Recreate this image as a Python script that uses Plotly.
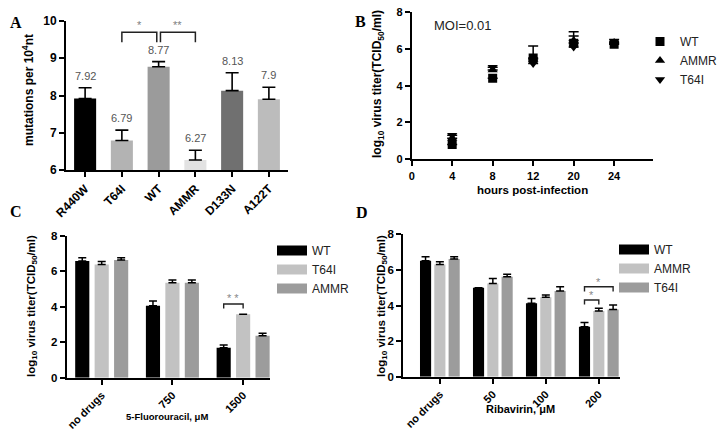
import plotly.graph_objects as go

W, H = 725, 429


def px(x):
    return x / W


def py(y):
    return 1 - y / H


FONT = "Liberation Sans"

# ---------------- Panel A data ----------------
a_cats = ["R440W", "T64I", "WT", "AMMR", "D133N", "A122T"]
a_vals = [7.92, 6.79, 8.77, 6.27, 8.13, 7.90]
a_errs = [0.29, 0.28, 0.14, 0.26, 0.48, 0.32]
a_labels = ["7.92", "6.79", "8.77", "6.27", "8.13", "7.9"]
a_colors = ["#000000", "#b3b3b3", "#9b9b9b", "#e2e2e2", "#707070", "#bcbcbc"]
a_sig = [("T64I", "WT", 9.70, 9.43, 9.90, "*"), ("WT", "AMMR", 9.70, 9.43, 9.90, "**")]

# ---------------- Panel B data ----------------
b_times = ["0", "4", "8", "12", "20", "24"]
b_x = ["4", "8", "12", "20", "24"]
b_wt = [0.80, 4.40, 5.50, 6.30, 6.25]
b_wt_err = [0, 0, 0, 0.40, 0.25]
b_ammr = [1.15, 4.85, 5.45, 6.45, 6.35]
b_ammr_err = [0, 0, 0.70, 0.48, 0]
b_t64i = [1.30, 5.00, 5.20, 6.10, 6.30]
b_t64i_err = [0, 0, 0, 0, 0]

# ---------------- Panel C data ----------------
c_groups = ["no drugs", "750", "1500"]
c_series = ["WT", "T64I", "AMMR"]
c_vals = {
    "WT": [6.57, 4.06, 1.69],
    "T64I": [6.38, 5.35, 3.57],
    "AMMR": [6.63, 5.35, 2.37],
}
c_errs = {
    "WT": [0.19, 0.26, 0.15],
    "T64I": [0.16, 0.15, 0.0],
    "AMMR": [0.13, 0.15, 0.13],
}
c_colors = {"WT": "#000000", "T64I": "#c2c2c2", "AMMR": "#9c9c9c"}
c_sig = [("1500", "WT", "T64I", 4.15, 3.90, 4.47, "* *")]

# ---------------- Panel D data ----------------
d_groups = ["no drugs", "50", "100", "200"]
d_series = ["WT", "AMMR", "T64I"]
d_vals = {
    "WT": [6.52, 5.00, 4.12, 2.81],
    "AMMR": [6.31, 5.24, 4.46, 3.69],
    "T64I": [6.61, 5.62, 4.81, 3.78],
}
d_errs = {
    "WT": [0.22, 0.0, 0.28, 0.24],
    "AMMR": [0.15, 0.28, 0.13, 0.15],
    "T64I": [0.13, 0.13, 0.25, 0.25],
}
d_colors = {"WT": "#000000", "AMMR": "#c2c2c2", "T64I": "#9c9c9c"}
d_sig = [("200", "WT", "AMMR", 4.31, 4.05, 4.58, "*"),
         ("200", "WT", "T64I", 5.05, 4.78, 5.30, "*")]

fig = go.Figure()
shapes = []
annotations = []

# ---------- Panel A ----------
fig.add_trace(go.Bar(
    x=a_cats, y=a_vals, width=0.6, marker=dict(color=a_colors, line=dict(width=0)),
    error_y=dict(type="data", array=a_errs, arrayminus=[0] * len(a_errs), symmetric=False,
                 color="black", thickness=1.6, width=6.5),
    xaxis="x", yaxis="y", showlegend=False,
))
for c, v, e, t in zip(a_cats, a_vals, a_errs, a_labels):
    annotations.append(dict(x=c, y=v + e, xref="x", yref="y", text=t, showarrow=False,
                            yanchor="bottom", yshift=4,
                            font=dict(family=FONT, size=11, color="#555555")))
for c1, c2, ytop, yleg, ystar, txt in a_sig:
    i1, i2 = a_cats.index(c1), a_cats.index(c2)
    mid = a_cats.index("WT")
    x0 = i1 + (0.05 if i1 == mid else 0)
    x1 = i2 - (0.05 if i2 == mid else 0)
    shapes.append(dict(type="path", xref="x", yref="y",
                       path=f"M {x0},{yleg} L {x0},{ytop} L {x1},{ytop} L {x1},{yleg}",
                       line=dict(color="#222222", width=1.5)))
    annotations.append(dict(x=(x0 + x1) / 2, y=ystar, xref="x", yref="y", text=txt,
                            showarrow=False, font=dict(family=FONT, size=11, color="#808080")))

# ---------- Panel B ----------
for name, vals, errs, sym in [("WT", b_wt, b_wt_err, "square"),
                              ("AMMR", b_ammr, b_ammr_err, "triangle-up"),
                              ("T64I", b_t64i, b_t64i_err, "triangle-down")]:
    fig.add_trace(go.Scatter(
        x=b_x, y=vals, mode="markers", name=name,
        marker=dict(symbol=sym, size=9, color="black"),
        error_y=dict(type="data", array=errs, arrayminus=[0] * len(errs), symmetric=False,
                     color="black", thickness=1.5, width=5),
        xaxis="x2", yaxis="y2", legend="legend",
    ))


def grouped(fig, groups, series, vals, errs, colors, width, step, xa, ya, leg):
    n = len(series)
    for k, s in enumerate(series):
        shift = (k - (n - 1) / 2) * step
        fig.add_trace(go.Bar(
            x=groups, y=vals[s], width=width, offset=shift - width / 2,
            marker=dict(color=colors[s], line=dict(width=0)),
            error_y=dict(type="data", array=errs[s], arrayminus=[0] * len(errs[s]),
                         symmetric=False, color="black", thickness=1.5, width=4),
            xaxis=xa, yaxis=ya, showlegend=False, legendgroup=leg + s, name=s,
        ))
        fig.add_trace(go.Scatter(
            x=[None], y=[None], mode="lines", name=s, legendgroup=leg + s,
            line=dict(color=colors[s], width=12), xaxis=xa, yaxis=ya, legend=leg,
        ))


def sig_shapes(sigs, groups, series, step, xref, yref):
    n = len(series)
    for g, s1, s2, ytop, yleg, ystar, txt in sigs:
        gi = groups.index(g)
        x0 = gi + (series.index(s1) - (n - 1) / 2) * step
        x1 = gi + (series.index(s2) - (n - 1) / 2) * step
        shapes.append(dict(type="path", xref=xref, yref=yref,
                           path=f"M {x0},{yleg} L {x0},{ytop} L {x1},{ytop} L {x1},{yleg}",
                           line=dict(color="#222222", width=1.4)))
        annotations.append(dict(x=(x0 + x1) / 2, y=ystar, xref=xref, yref=yref, text=txt,
                                showarrow=False, font=dict(family=FONT, size=11, color="#888888")))


# ---------- Panel C ----------
grouped(fig, c_groups, c_series, c_vals, c_errs, c_colors, 0.2, 0.275, "x3", "y3", "legend2")
sig_shapes(c_sig, c_groups, c_series, 0.275, "x3", "y3")

# ---------- Panel D ----------
grouped(fig, d_groups, d_series, d_vals, d_errs, d_colors, 0.21, 0.27, "x4", "y4", "legend3")
sig_shapes(d_sig, d_groups, d_series, 0.27, "x4", "y4")


def tf(size):
    return dict(family=FONT, size=size, color="black", weight="bold")


axis_common = dict(showline=True, linecolor="black", linewidth=2, ticks="outside",
                   tickcolor="black", tickwidth=1.6, ticklen=5, showgrid=False, zeroline=False,
                   automargin=False)

fig.update_layout(
    width=W, height=H, autosize=False,
    margin=dict(l=0, r=0, t=0, b=0, autoexpand=False),
    paper_bgcolor="white", plot_bgcolor="white",
    barmode="overlay",
    font=dict(family=FONT, color="black"),
    xaxis=dict(axis_common, domain=[px(66), px(288)], anchor="y", type="category",
               range=[-0.52, 5.52], tickangle=-45, tickfont=tf(12)),
    yaxis=dict(axis_common, domain=[py(170), py(21)], anchor="x", range=[6, 10], dtick=1,
               tickfont=tf(12)),
    xaxis2=dict(axis_common, domain=[px(411.7), px(653)], anchor="y2", type="category",
                categoryorder="array", categoryarray=b_times, range=[0, 5.96],
                tickvals=b_times, tickfont=tf(11)),
    yaxis2=dict(axis_common, domain=[py(159.3), py(12)], anchor="x2", range=[0, 8], dtick=2,
                tickfont=tf(11)),
    xaxis3=dict(axis_common, domain=[px(66.7), px(270)], anchor="y3", type="category",
                range=[-0.495, 2.38], tickangle=-45, tickfont=tf(11)),
    yaxis3=dict(axis_common, domain=[py(377.7), py(235.7)], anchor="x3", range=[0, 8], dtick=2,
                tickfont=tf(11.5)),
    xaxis4=dict(axis_common, domain=[px(403.3), px(620)], anchor="y4", type="category",
                range=[-0.69, 3.40], tickangle=-45, tickfont=tf(11)),
    yaxis4=dict(axis_common, domain=[py(376.7), py(234.3)], anchor="x4", range=[0, 8], dtick=2,
                tickfont=tf(11.5)),
    legend=dict(x=px(640), y=py(27), xanchor="left", yanchor="top", bgcolor="rgba(0,0,0,0)",
                font=dict(family=FONT, size=12, color="#222222"), tracegroupgap=0),
    legend2=dict(x=px(272), y=py(236), xanchor="left", yanchor="top", bgcolor="rgba(0,0,0,0)",
                 font=dict(family=FONT, size=12, color="#222222"), tracegroupgap=0),
    legend3=dict(x=px(614), y=py(235), xanchor="left", yanchor="top", bgcolor="rgba(0,0,0,0)",
                 font=dict(family=FONT, size=12, color="#222222"), tracegroupgap=0),
)

titles = [
    ("mutations per 10<sup>4</sup>nt", 28, 90, -90, 12),
    ("log<sub>10</sub> virus titer(TCID<sub>50</sub>/ml)", 378, 84, -90, 12),
    ("hours post-infection", 532, 190, 0, 11.5),
    ("log<sub>10</sub> virus titer(TCID<sub>50</sub>/ml)", 32, 306, -90, 11.5),
    ("5-Fluorouracil, μM", 167, 416, 0, 9.5),
    ("log<sub>10</sub> virus titer(TCID<sub>50</sub>/ml)", 382, 306, -90, 11.5),
    ("Ribavirin, μM", 520, 409, 0, 11),
]
for t, x, y, ang, size in titles:
    annotations.append(dict(x=px(x), y=py(y), xref="paper", yref="paper", text=t,
                            showarrow=False, textangle=ang,
                            font=dict(family=FONT, size=size, color="black", weight="bold"),
                            xanchor="center", yanchor="middle"))

annotations.append(dict(x=px(432), y=py(25), xref="paper", yref="paper", text="MOI=0.01",
                        showarrow=False, xanchor="left", yanchor="middle",
                        font=dict(family=FONT, size=13, color="#222222")))

for letter, x, y in [("A", 16, 22), ("B", 360, 21), ("C", 16, 212), ("D", 362, 213)]:
    annotations.append(dict(x=px(x), y=py(y), xref="paper", yref="paper", text=letter,
                            showarrow=False, xanchor="center", yanchor="middle",
                            font=dict(family="Liberation Serif", size=16, color="black",
                                      weight="bold")))

fig.update_layout(shapes=shapes, annotations=annotations)
fig.write_html("out.html", config={"displayModeBar": False},
               post_script="document.body.style.margin='0px';")
